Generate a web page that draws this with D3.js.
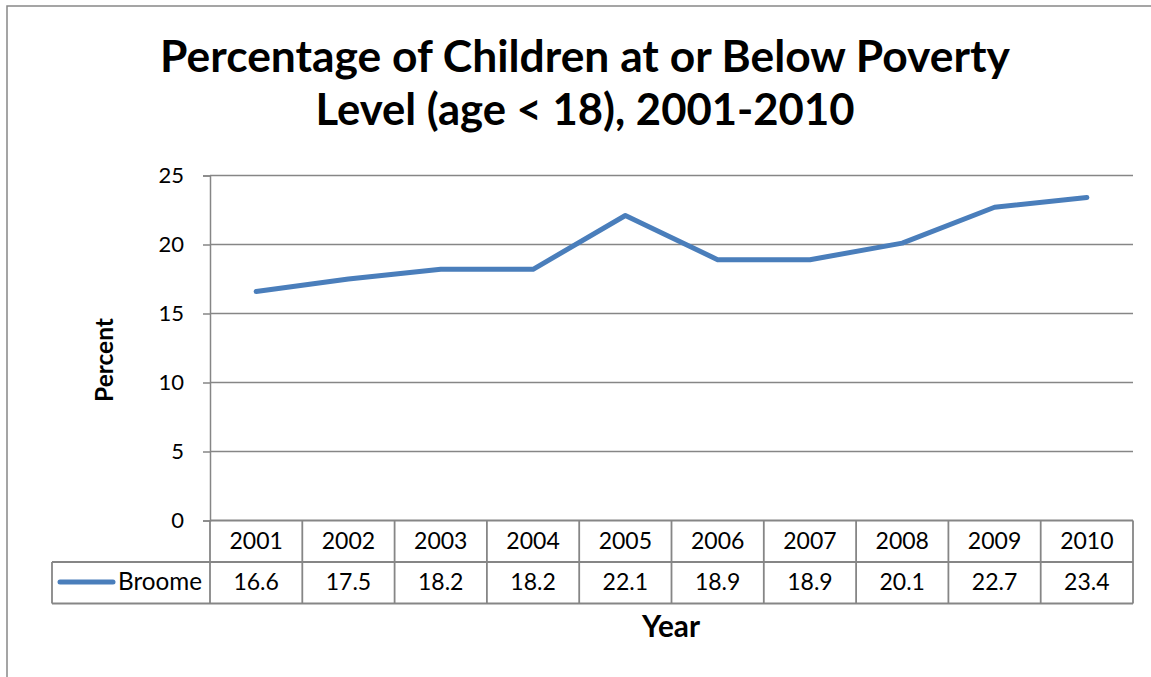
<!DOCTYPE html>
<html><head><meta charset="utf-8">
<script src="https://cdn.jsdelivr.net/npm/d3@7"></script>
<style>body{margin:0;background:#fff}svg{display:block}text{font-family:Lato,"Open Sans",sans-serif;fill:#000}</style>
</head><body>
<svg id="c" width="1151" height="677"></svg>
<script>
const years = ["2001","2002","2003","2004","2005","2006","2007","2008","2009","2010"];
const broome = [16.6,17.5,18.2,18.2,22.1,18.9,18.9,20.1,22.7,23.4];
const yTicks = [0,5,10,15,20,25];
const seriesName = "Broome";
const titleLines = ["Percentage of Children at or Below Poverty","Level (age < 18), 2001-2010"];

const svg = d3.select("#c");
const grid = "#868686";
function fit(el, w){ const cw=el.node().getComputedTextLength(); const fs=+el.attr("font-size"); el.attr("font-size",fs*w/cw); return el; }

svg.append("rect").attr("x",7).attr("y",6).attr("width",1160).attr("height",700)
  .attr("fill","none").attr("stroke","#888").attr("stroke-width",1.5);

const L=210, R=1133, T=175.5, B=520.5;
const x = d3.scaleBand().domain(years).range([L,R]);
const y = d3.scaleLinear().domain([0,25]).range([B,T]);

// title
const tw=[850,539];
titleLines.forEach((t,i)=>{
  const el=svg.append("text").attr("x",585).attr("y",[72,125][i]).attr("text-anchor","middle")
    .attr("font-weight","bold").attr("font-size",40).text(t);
  fit(el,tw[i]);
});

// gridlines
svg.append("g").selectAll("line").data(yTicks.filter(d=>d>0)).join("line")
  .attr("x1",L).attr("x2",R).attr("y1",d=>y(d)).attr("y2",d=>y(d))
  .attr("stroke",grid).attr("stroke-width",1.5);

// y axis
const ya = svg.append("g").attr("transform",`translate(${L},0)`)
  .call(d3.axisLeft(y).tickValues(yTicks).tickSize(7).tickPadding(19));
ya.select(".domain").attr("stroke",grid).attr("stroke-width",1.5);
ya.selectAll(".tick line").attr("stroke",grid).attr("stroke-width",1.5);
ya.selectAll(".tick text").attr("font-size",22).attr("font-family","Lato,sans-serif").attr("fill","#000");

fit(svg.append("text").attr("transform","translate(113,360) rotate(-90)").attr("text-anchor","middle")
  .attr("font-weight","bold").attr("font-size",20).text("Percent"),84);

// table
const r0=B, r1=562, r2=603.5, TL=52;
const tb=svg.append("g").attr("stroke",grid).attr("stroke-width",1.8).attr("fill","none");
tb.append("line").attr("x1",L).attr("x2",R).attr("y1",r0).attr("y2",r0);
tb.append("line").attr("x1",TL).attr("x2",R).attr("y1",r1).attr("y2",r1);
tb.append("line").attr("x1",TL).attr("x2",R).attr("y1",r2).attr("y2",r2);
tb.append("line").attr("x1",TL).attr("x2",TL).attr("y1",r1).attr("y2",r2);
tb.selectAll(".v").data(years).join("line").attr("class","v")
  .attr("x1",d=>x(d)+x.bandwidth()).attr("x2",d=>x(d)+x.bandwidth()).attr("y1",r0).attr("y2",r2);
tb.append("line").attr("x1",L).attr("x2",L).attr("y1",r0).attr("y2",r2);

svg.append("g").selectAll("text").data(years).join("text")
  .attr("x",d=>x(d)+x.bandwidth()/2).attr("y",549).attr("text-anchor","middle").attr("font-size",23).text(d=>d);
svg.append("g").selectAll("text").data(broome).join("text")
  .attr("x",(d,i)=>x(years[i])+x.bandwidth()/2).attr("y",590).attr("text-anchor","middle").attr("font-size",23).text(d=>d.toFixed(1));

svg.append("line").attr("x1",60).attr("x2",113).attr("y1",582).attr("y2",582)
  .attr("stroke","#4a7ebb").attr("stroke-width",5).attr("stroke-linecap","round");
fit(svg.append("text").attr("x",118).attr("y",590).attr("font-size",22).text(seriesName),84);

fit(svg.append("text").attr("x",671).attr("y",637).attr("text-anchor","middle")
  .attr("font-weight","bold").attr("font-size",26).text("Year"),58);

// line
const line=d3.line().x((d,i)=>x(years[i])+x.bandwidth()/2).y(d=>y(d));
svg.append("path").datum(broome).attr("d",line).attr("fill","none")
  .attr("stroke","#4a7ebb").attr("stroke-width",5).attr("stroke-linejoin","round").attr("stroke-linecap","round");
</script>
</body></html>
